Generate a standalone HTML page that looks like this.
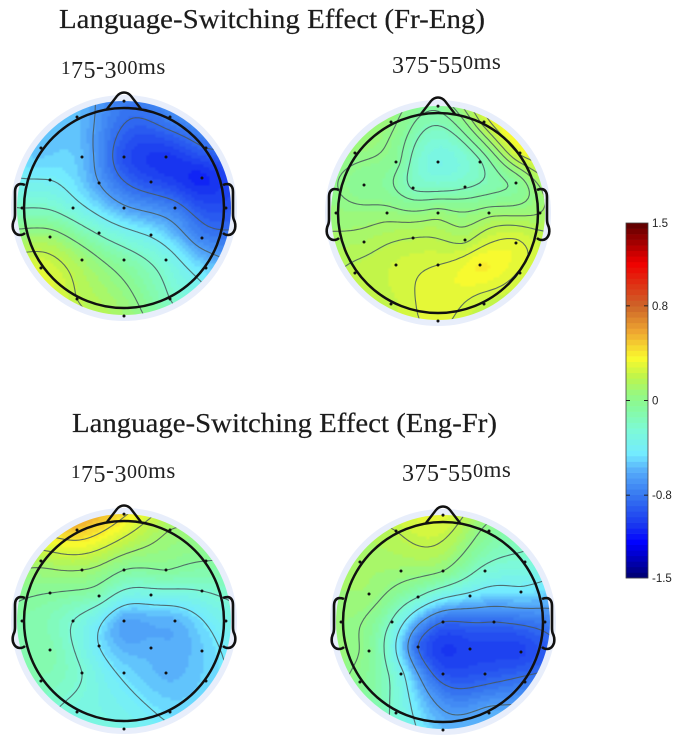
<!DOCTYPE html>
<html lang="en">
<head>
<meta charset="utf-8">
<title>Language-Switching Effect topographic maps</title>
<style>
html,body{margin:0;padding:0;background:#fff;width:685px;height:743px;overflow:hidden}
svg{display:block}
.title{font-family:"Liberation Serif",serif;font-size:27px;fill:#1c1c1c;stroke:#1c1c1c;stroke-width:.2px}
.label{font-family:"Liberation Serif",serif;font-size:24px;fill:#222;letter-spacing:.5px}
.cb{font-family:"Liberation Sans",sans-serif;font-size:11.5px;fill:#222}
</style>
</head>
<body>
<svg id="chart" width="685" height="743" viewBox="0 0 685 743" xmlns="http://www.w3.org/2000/svg">
  <text class="title" x="59" y="28" textLength="426" lengthAdjust="spacingAndGlyphs">Language-Switching Effect (Fr-Eng)</text>
  <text class="title" x="72" y="432" textLength="425" lengthAdjust="spacingAndGlyphs">Language-Switching Effect (Eng-Fr)</text>

  <text class="label" x="61" y="74"><tspan font-size="19">1</tspan><tspan dy="4">75</tspan><tspan dy="-4">-</tspan><tspan dy="4">3</tspan><tspan dy="-4" font-size="20">00</tspan><tspan font-size="23">ms</tspan></text>
  <text class="label" x="392" y="69"><tspan dy="4">375</tspan><tspan dy="-6">-</tspan><tspan dy="6">55</tspan><tspan dy="-4" font-size="20">0</tspan><tspan font-size="23">ms</tspan></text>
  <text class="label" x="71" y="478"><tspan font-size="19">1</tspan><tspan dy="4">75</tspan><tspan dy="-4">-</tspan><tspan dy="4">3</tspan><tspan dy="-4" font-size="20">00</tspan><tspan font-size="23">ms</tspan></text>
  <text class="label" x="402" y="477"><tspan dy="4">375</tspan><tspan dy="-6">-</tspan><tspan dy="6">55</tspan><tspan dy="-4" font-size="20">0</tspan><tspan font-size="23">ms</tspan></text>
</svg>

<script>
// Electrode layout (unit head coordinates)
const electrodeX = [0,-.435,.426,-.769,.759,-.389,0,.389,-.685,-.231,.25,.722,-.944,-.472,0,.472,.944,-.685,-.231,.25,.722,-.389,0,.389,-.769,.759,-.435,.426,0];
const electrodeY = [-.99,-.843,-.843,-.556,-.556,-.472,-.472,-.472,-.259,-.231,-.241,-.278,0,0,0,0,0,.269,.231,.25,.278,.481,.481,.481,.556,.556,.843,.843,1];

// Amplitude at each electrode (microvolts)
const valuesFrEngEarly = [-.78,-.55,-.75,-.55,-.85,-.55,-.95,-1.05,-.4,-.65,-.95,-1.1,-.2,-.32,-.62,-.78,-.95,.08,-.22,-.42,-.75,.1,-.1,-.3,.28,-.5,.2,-.2,.1];
const valuesFrEngLate = [-.05,.05,.22,.05,.3,-.05,-.33,-.17,-.03,-.17,-.17,-.05,.06,.06,.06,.07,.1,.14,.18,.16,.3,.24,.28,.38,.2,.27,.22,.22,.3];
const valuesEngFrEarly = [.42,.5,.1,.15,-.05,.1,-.05,-.05,-.05,-.15,-.33,-.25,-.1,-.25,-.62,-.58,-.35,-.12,-.45,-.58,-.52,-.25,-.48,-.58,-.15,-.5,-.3,-.48,-.33];
const valuesEngFrLate = [.3,.2,-.03,.1,-.25,.08,.02,-.25,.08,-.2,-.45,-.45,.05,-.22,-.85,-.85,-.78,-.03,-.85,-1,-1,-.35,-.93,-.93,-.03,-.8,-.25,-.6,-.55];

// Contour levels for each map
const levelsFrEngEarly = [-.85,-.65,-.4,-.2,0,.2];
const levelsFrEngLate = [-.16,-.08,.02,.1,.18,.28];
const levelsEngFrEarly = [.4,.25,.1,-.05,-.25,-.45];
const levelsEngFrLate = [.2,.02,-.2,-.4,-.65,-.85];

// Colour scale
const colorDomain = [-1.5,1.5];
const colorbarTicks = [1.5,.8,0,-.8,-1.5];
const colorbarTickLabels = ['1.5','0.8','0','-0.8','-1.5'];
const rampValues = [-1.5,-1.2,-1.05,-.8,-.6,-.45,-.25,-.05,.05,.2,.36,.57,.8,1.16,1.5];
const rampColors = [[0,0,110],[0,0,255],[25,55,240],[55,120,240],[85,170,250],[115,235,255],[125,250,215],[135,250,155],[150,248,130],[190,245,75],[250,250,45],[240,170,50],[205,100,40],[240,0,0],[90,0,0]];

const NS = 'http://www.w3.org/2000/svg';
const svg = document.getElementById('chart');
const HEAD_R = 100, DATA_R = 107, RING_R = 113, UNIT = 108, STEP = 3, LEVELS = 64;

function make(tag, parent){
  const el = document.createElementNS(NS, tag);
  parent.appendChild(el);
  return el;
}
function clamp(v){ return Math.max(0, Math.min(1, v)); }
function colorOf(v){
  const span = colorDomain[1] - colorDomain[0];
  const t = (Math.floor(clamp((v - colorDomain[0]) / span) * (LEVELS - 1e-6)) + .5) / LEVELS;
  const q = colorDomain[0] + t * span;
  let i = 0;
  while (i < rampValues.length - 2 && q > rampValues[i + 1]) i++;
  const f = clamp((q - rampValues[i]) / (rampValues[i + 1] - rampValues[i]));
  const c = [0, 1, 2].map(function(k){
    return Math.round(rampColors[i][k] + f * (rampColors[i + 1][k] - rampColors[i][k]));
  });
  return 'rgb(' + c[0] + ',' + c[1] + ',' + c[2] + ')';
}
function green(r2){
  return r2 < 1e-12 ? 0 : r2 * (0.5 * Math.log(r2) - 1);
}
function solve(A, b){
  const n = b.length;
  for (let i = 0; i < n; i++){
    let p = i;
    for (let k = i + 1; k < n; k++) if (Math.abs(A[k][i]) > Math.abs(A[p][i])) p = k;
    [A[i], A[p]] = [A[p], A[i]];
    [b[i], b[p]] = [b[p], b[i]];
    for (let k = i + 1; k < n; k++){
      const f = A[k][i] / A[i][i];
      for (let j = i; j < n; j++) A[k][j] -= f * A[i][j];
      b[k] -= f * b[i];
    }
  }
  const x = new Array(n).fill(0);
  for (let i = n - 1; i >= 0; i--){
    let s = b[i];
    for (let j = i + 1; j < n; j++) s -= A[i][j] * x[j];
    x[i] = s / A[i][i];
  }
  return x;
}
function buildField(values){
  const n = values.length, N = n + 3;
  const A = [], b = [];
  for (let i = 0; i < N; i++){
    A.push(new Array(N).fill(0));
    b.push(i < n ? values[i] : 0);
  }
  for (let i = 0; i < n; i++){
    for (let j = 0; j < n; j++){
      const dx = electrodeX[i] - electrodeX[j], dy = electrodeY[i] - electrodeY[j];
      A[i][j] = green(dx*dx + dy*dy);
    }
    A[i][n] = 1; A[i][n+1] = electrodeX[i]; A[i][n+2] = electrodeY[i];
    A[n][i] = 1; A[n+1][i] = electrodeX[i]; A[n+2][i] = electrodeY[i];
  }
  const w = solve(A, b);
  return function(x, y){
    let s = w[n] + w[n+1]*x + w[n+2]*y;
    for (let i = 0; i < n; i++){
      const dx = x - electrodeX[i], dy = y - electrodeY[i];
      s += w[i] * green(dx*dx + dy*dy);
    }
    return s;
  };
}
function contourPath(grid, nx, ox, oy, level){
  let d = '';
  const f = p => p.toFixed(1);
  for (let j = 0; j < nx - 1; j++){
    for (let i = 0; i < nx - 1; i++){
      const a = grid[j][i], b = grid[j][i+1], c = grid[j+1][i+1], e = grid[j+1][i];
      const x0 = ox + i*STEP, y0 = oy + j*STEP;
      const pts = [];
      if ((a < level) !== (b < level)) pts.push([x0 + STEP*(level-a)/(b-a), y0]);
      if ((b < level) !== (c < level)) pts.push([x0 + STEP, y0 + STEP*(level-b)/(c-b)]);
      if ((e < level) !== (c < level)) pts.push([x0 + STEP*(level-e)/(c-e), y0 + STEP]);
      if ((a < level) !== (e < level)) pts.push([x0, y0 + STEP*(level-a)/(e-a)]);
      for (let k = 0; k + 1 < pts.length; k += 2){
        d += 'M' + f(pts[k][0]) + ' ' + f(pts[k][1]) + 'L' + f(pts[k+1][0]) + ' ' + f(pts[k+1][1]);
      }
    }
  }
  return d;
}
function drawMap(name, cx, cy, values, levels){
  const g = make('g', svg);
  
  

  const ring = make('circle', g);
  
  
  ring.setAttribute('cx', cx); ring.setAttribute('cy', cy); ring.setAttribute('r', RING_R);
  ring.setAttribute('fill', '#e8eefb');

  const clip = make('clipPath', g);
  clip.setAttribute('id', name + '-clip');
  const clipC = make('circle', clip);
  clipC.setAttribute('cx', cx); clipC.setAttribute('cy', cy); clipC.setAttribute('r', DATA_R);

  const clipped = make('g', g);
  clipped.setAttribute('clip-path', 'url(#' + name + '-clip)');
  const cells = make('g', clipped);
  
  
  cells.setAttribute('style', 'filter:blur(.9px)');

  const field = buildField(values);
  const nx = Math.ceil((DATA_R + 6) * 2 / STEP) + 1;
  const ox = cx - (nx - 1) * STEP / 2, oy = cy - (nx - 1) * STEP / 2;
  const grid = [];
  for (let j = 0; j < nx; j++){
    const row = [];
    for (let i = 0; i < nx; i++){
      const px = ox + i*STEP, py = oy + j*STEP;
      row.push(field((px - cx)/UNIT, (py - cy)/UNIT));
    }
    grid.push(row);
  }
  for (let j = 0; j < nx; j++){
    for (let i = 0; i < nx; i++){
      const px = ox + i*STEP, py = oy + j*STEP;
      if (Math.hypot(px - cx, py - cy) > DATA_R + 7) continue;
      const cell = make('rect', cells);
      
      
      cell.setAttribute('x', px - STEP/2 - .1);
      cell.setAttribute('y', py - STEP/2 - .1);
      cell.setAttribute('width', STEP + .2);
      cell.setAttribute('height', STEP + .2);
      cell.setAttribute('fill', colorOf(grid[j][i]));
    }
  }
  levels.forEach(function(level){
    const line = make('path', clipped);
    
    
    line.setAttribute('d', contourPath(grid, nx, ox, oy, level));
    line.setAttribute('fill', 'none');
    line.setAttribute('stroke', '#46585c');
    line.setAttribute('stroke-opacity', '.85');
    line.setAttribute('stroke-width', '1.1');
    line.setAttribute('stroke-linecap', 'round');
  });

  for (let i = 0; i < electrodeX.length; i++){
    const dot = make('circle', g);
    
    
    dot.setAttribute('cx', cx + electrodeX[i]*UNIT);
    dot.setAttribute('cy', cy + electrodeY[i]*UNIT);
    dot.setAttribute('r', 1.5);
    dot.setAttribute('fill', '#111');
  }

  const head = make('circle', g);
  
  
  head.setAttribute('cx', cx); head.setAttribute('cy', cy); head.setAttribute('r', HEAD_R);
  head.setAttribute('fill', 'none');
  head.setAttribute('stroke', '#111');
  head.setAttribute('stroke-width', '2.5');

  const nose = make('path', g);
  
  
  nose.setAttribute('transform', 'translate(' + cx + ' ' + cy + ')');
  nose.setAttribute('d', 'M-17 -99 L-7 -112 Q-4 -115.5 0 -115.5 Q4 -115.5 7 -112 L17 -99');
  nose.setAttribute('fill', 'none');
  nose.setAttribute('stroke', '#111');
  nose.setAttribute('stroke-width', '2.4');

  [-1, 1].forEach(function(side){
    const ear = make('path', g);
    
    
    ear.setAttribute('transform', 'translate(' + cx + ' ' + cy + ') scale(' + side + ' 1)');
    ear.setAttribute('d', 'M99 -23 Q101 -24 104 -24 Q109 -23 109 -16 L109 6 Q109 10 110 12 Q112 16 111 21 Q109 27 104 27 Q101 27 99 25');
    ear.setAttribute('fill', 'none');
    ear.setAttribute('stroke', '#111');
    ear.setAttribute('stroke-width', '2.6');
  });
}

drawMap('topomap-fr-eng-175-300', 124, 208, valuesFrEngEarly, levelsFrEngEarly);
drawMap('topomap-fr-eng-375-550', 438, 213, valuesFrEngLate, levelsFrEngLate);
drawMap('topomap-eng-fr-175-300', 124, 621, valuesEngFrEarly, levelsEngFrEarly);
drawMap('topomap-eng-fr-375-550', 443, 622, valuesEngFrLate, levelsEngFrLate);

// Colorbar
const barX = 626, barW = 22, barTop = 223, barBottom = 578;
function barY(v){
  return barBottom - (v - colorDomain[0]) / (colorDomain[1] - colorDomain[0]) * (barBottom - barTop);
}
const bar = make('g', svg);


for (let i = 0; i < LEVELS; i++){
  const lo = colorDomain[0] + (colorDomain[1] - colorDomain[0]) * i / LEVELS;
  const hi = colorDomain[0] + (colorDomain[1] - colorDomain[0]) * (i + 1) / LEVELS;
  const seg = make('rect', bar);
  
  
  seg.setAttribute('x', barX);
  seg.setAttribute('y', barY(hi));
  seg.setAttribute('width', barW);
  seg.setAttribute('height', barY(lo) - barY(hi) + .3);
  seg.setAttribute('fill', colorOf((lo + hi) / 2));
}
const frame = make('rect', bar);


frame.setAttribute('x', barX);
frame.setAttribute('y', barTop);
frame.setAttribute('width', barW);
frame.setAttribute('height', barBottom - barTop);
frame.setAttribute('fill', 'none');
frame.setAttribute('stroke', '#444');
frame.setAttribute('stroke-width', '.8');
colorbarTicks.forEach(function(v, i){
  const y = barY(v);
  if (i > 0 && i < colorbarTicks.length - 1){
    [[barX, barX + 4], [barX + barW - 4, barX + barW]].forEach(function(p){
      const tick = make('line', bar);
      
      
      tick.setAttribute('x1', p[0]); tick.setAttribute('x2', p[1]);
      tick.setAttribute('y1', y); tick.setAttribute('y2', y);
      tick.setAttribute('stroke', '#222');
      tick.setAttribute('stroke-width', '1');
    });
  }
  const label = make('text', bar);
  
  
  label.setAttribute('class', 'cb');
  label.setAttribute('x', 652);
  label.setAttribute('y', y + 4);
  label.textContent = colorbarTickLabels[i];
});
</script>
</body>
</html>
